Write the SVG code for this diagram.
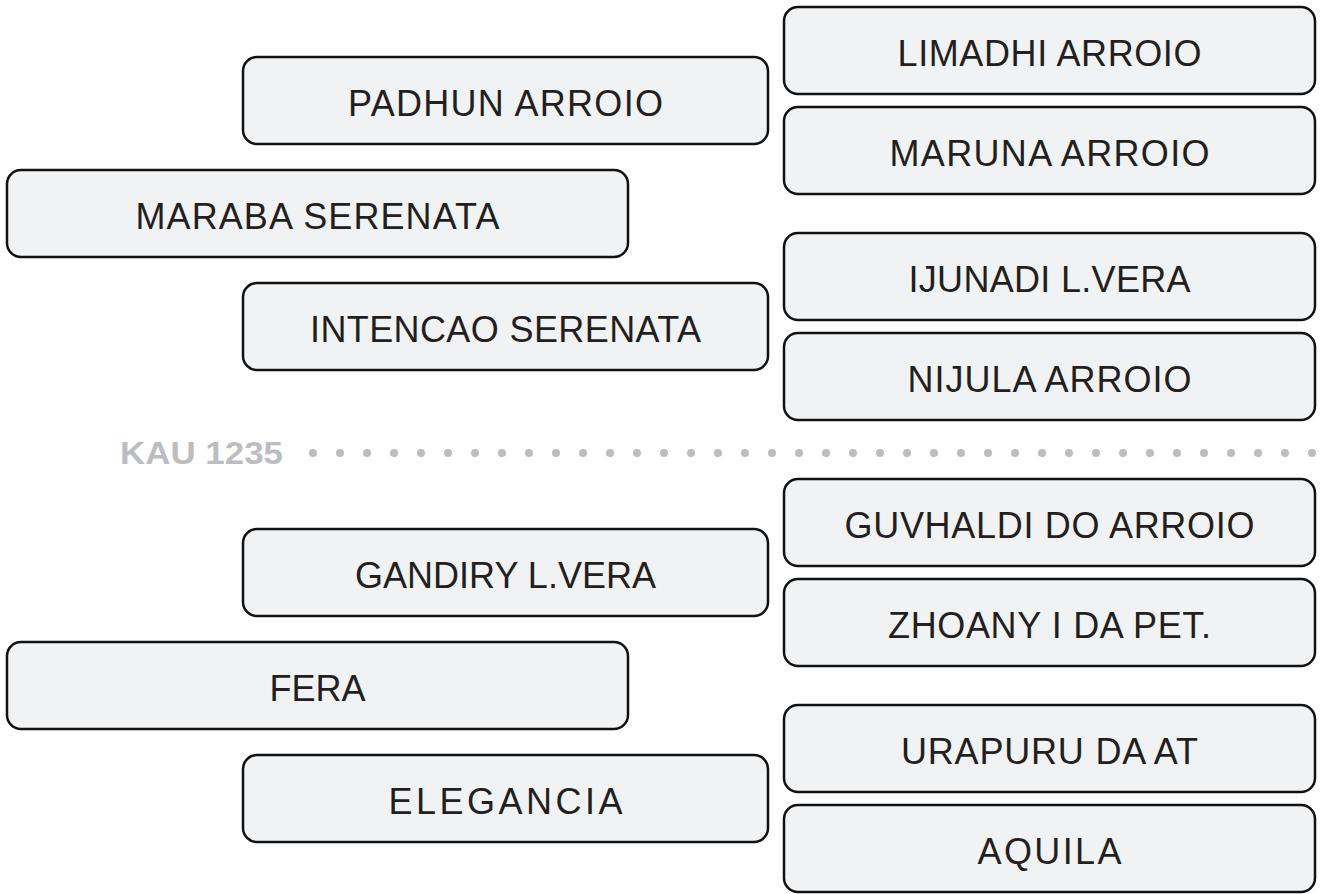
<svg xmlns="http://www.w3.org/2000/svg" width="1322" height="894" viewBox="0 0 1322 894">
<style>
.box{fill:#f1f2f4;stroke:#111;stroke-width:2.5}
.lbl{font-family:"Liberation Sans",Arial,sans-serif;font-size:36px;fill:#231f20;text-anchor:middle}
.div{font-family:"Liberation Sans",Arial,sans-serif;font-size:32px;font-weight:bold;fill:#bcbdc1}
.dot{fill:#bcbdc1}
</style>
<rect width="1322" height="894" fill="#ffffff"/>
<g id="connectors">
<text class="div" x="120" y="464" textLength="163" lengthAdjust="spacingAndGlyphs">KAU 1235</text>
<g id="dots" class="dot">
<circle cx="313" cy="453" r="4"/><circle cx="340" cy="453" r="4"/><circle cx="367" cy="453" r="4"/><circle cx="394" cy="453" r="4"/><circle cx="421" cy="453" r="4"/><circle cx="448" cy="453" r="4"/><circle cx="475" cy="453" r="4"/><circle cx="502" cy="453" r="4"/><circle cx="529" cy="453" r="4"/><circle cx="556" cy="453" r="4"/><circle cx="583" cy="453" r="4"/><circle cx="610" cy="453" r="4"/><circle cx="637" cy="453" r="4"/><circle cx="664" cy="453" r="4"/><circle cx="691" cy="453" r="4"/><circle cx="718" cy="453" r="4"/><circle cx="745" cy="453" r="4"/><circle cx="772" cy="453" r="4"/><circle cx="799" cy="453" r="4"/><circle cx="826" cy="453" r="4"/><circle cx="853" cy="453" r="4"/><circle cx="880" cy="453" r="4"/><circle cx="907" cy="453" r="4"/><circle cx="934" cy="453" r="4"/><circle cx="961" cy="453" r="4"/><circle cx="988" cy="453" r="4"/><circle cx="1015" cy="453" r="4"/><circle cx="1042" cy="453" r="4"/><circle cx="1069" cy="453" r="4"/><circle cx="1096" cy="453" r="4"/><circle cx="1123" cy="453" r="4"/><circle cx="1150" cy="453" r="4"/><circle cx="1177" cy="453" r="4"/><circle cx="1204" cy="453" r="4"/><circle cx="1231" cy="453" r="4"/><circle cx="1258" cy="453" r="4"/><circle cx="1285" cy="453" r="4"/><circle cx="1312" cy="453" r="4"/>
</g>
</g>
<g id="limadhi"><rect class="box" x="784" y="7" width="531" height="87" rx="14"/><text class="lbl" x="1049.5" y="66" textLength="304">LIMADHI ARROIO</text></g>
<g id="maruna"><rect class="box" x="784" y="107" width="531" height="87" rx="14"/><text class="lbl" x="1049.5" y="166" textLength="320">MARUNA ARROIO</text></g>
<g id="padhun"><rect class="box" x="243" y="57" width="525" height="87" rx="14"/><text class="lbl" x="505.5" y="116" textLength="315">PADHUN ARROIO</text></g>
<g id="maraba"><rect class="box" x="7" y="170" width="621" height="87" rx="14"/><text class="lbl" x="317.5" y="229" textLength="364">MARABA SERENATA</text></g>
<g id="intencao"><rect class="box" x="243" y="283" width="525" height="87" rx="14"/><text class="lbl" x="505.5" y="342" textLength="391">INTENCAO SERENATA</text></g>
<g id="ijunadi"><rect class="box" x="784" y="233" width="531" height="87" rx="14"/><text class="lbl" x="1049.5" y="292" textLength="282">IJUNADI L.VERA</text></g>
<g id="nijula"><rect class="box" x="784" y="333" width="531" height="87" rx="14"/><text class="lbl" x="1049.5" y="392" textLength="284">NIJULA ARROIO</text></g>
<g id="guvhaldi"><rect class="box" x="784" y="479" width="531" height="87" rx="14"/><text class="lbl" x="1049.5" y="538" textLength="410">GUVHALDI DO ARROIO</text></g>
<g id="zhoany"><rect class="box" x="784" y="579" width="531" height="87" rx="14"/><text class="lbl" x="1049.5" y="638" textLength="323">ZHOANY I DA PET.</text></g>
<g id="gandiry"><rect class="box" x="243" y="529" width="525" height="87" rx="14"/><text class="lbl" x="505.5" y="588" textLength="301">GANDIRY L.VERA</text></g>
<g id="fera"><rect class="box" x="7" y="642" width="621" height="87" rx="14"/><text class="lbl" x="317.5" y="701" textLength="96">FERA</text></g>
<g id="urapuru"><rect class="box" x="784" y="705" width="531" height="87" rx="14"/><text class="lbl" x="1049.5" y="764" textLength="297">URAPURU DA AT</text></g>
<g id="elegancia"><rect class="box" x="243" y="755" width="525" height="87" rx="14"/><text class="lbl" x="505.5" y="814" textLength="234">ELEGANCIA</text></g>
<g id="aquila"><rect class="box" x="784" y="805" width="531" height="87" rx="14"/><text class="lbl" x="1049.5" y="864" textLength="144">AQUILA</text></g>
</svg>
